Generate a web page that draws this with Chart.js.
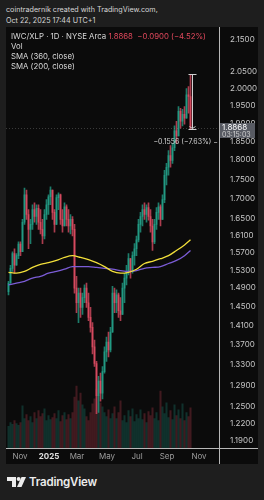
<!DOCTYPE html>
<html>
<head>
<meta charset="utf-8">
<script src="https://cdn.jsdelivr.net/npm/chart.js@4.4.1/dist/chart.umd.min.js"></script>
<style>
  html, body { margin: 0; padding: 0; width: 264px; height: 500px; overflow: hidden; background: #1e1e1e; font-family: Inter, "Noto Sans", sans-serif; }
  .hdr { position: absolute; left: 6px; color: #d6d6d6; font-size: 7.2px; line-height: 10px; white-space: nowrap; }
  #panel { position: absolute; left: 6px; top: 27px; width: 252px; height: 437px; background: #0b0b0b; }
  #chart { position: absolute; left: 0; top: 0; }
  .leg { position: absolute; left: 5px; font-size: 7.8px; line-height: 10px; color: #d8d8d8; white-space: nowrap; }
  .red { color: #e0485c; }
  #logo { position: absolute; left: 7px; top: 477px; }
  #brand { position: absolute; left: 29px; top: 474px; font-size: 11.5px; line-height: 16px; font-weight: 600; letter-spacing: -0.2px; color: #ececec; }
</style>
</head>
<body>
<div class="hdr" style="top:5px">cointradernik created with TradingView.com,</div>
<div class="hdr" style="top:15.5px">Oct 22, 2025 17:44 UTC+1</div>
<div id="panel">
  <canvas id="chart" width="252" height="437"></canvas>
  <div class="leg" style="top:4px">IWC/XLP · 1D · NYSE Arca <span class="red">1.8868 &nbsp;−0.0900 (−4.52%)</span></div>
  <div class="leg" style="top:14px">Vol</div>
  <div class="leg" style="top:24px">SMA (360, close)</div>
  <div class="leg" style="top:34px">SMA (200, close)</div>
</div>
<svg id="logo" width="19" height="10" viewBox="0 0 19 10">
  <path d="M0 0 H9 V10 H5 V4 H0 Z" fill="#ececec"/>
  <circle cx="11.6" cy="2" r="2" fill="#ececec"/>
  <path d="M14.5 0 H19 L14.5 10 H10 Z" fill="#ececec"/>
</svg>
<div id="brand">TradingView</div>

<script>
// bars (each bar ~ one 2px column)
const lows = [1.475, 1.501, 1.527, 1.523, 1.541, 1.556, 1.563, 1.572, 1.637, 1.649,
  1.579, 1.591, 1.625, 1.642, 1.637, 1.625, 1.614, 1.591, 1.602, 1.649,
  1.661, 1.685, 1.649, 1.618, 1.637, 1.673, 1.637, 1.618, 1.633, 1.633,
  1.618, 1.614, 1.609, 1.479, 1.437, 1.416, 1.427, 1.433, 1.458, 1.448,
  1.420, 1.396, 1.352, 1.327, 1.238, 1.240, 1.261, 1.265, 1.314, 1.337,
  1.346, 1.356, 1.396, 1.437, 1.437, 1.427, 1.420, 1.433, 1.458, 1.497,
  1.519, 1.512, 1.523, 1.541, 1.563, 1.595, 1.618, 1.633, 1.649, 1.642,
  1.647, 1.618, 1.575, 1.591, 1.625, 1.649, 1.633, 1.649, 1.690, 1.735,
  1.760, 1.781, 1.791, 1.825, 1.844, 1.865, 1.887, 1.893, 1.898, 1.915,
  1.929, 1.884];
const highs = [1.505, 1.541, 1.572, 1.579, 1.568, 1.595, 1.595, 1.649, 1.727, 1.722,
  1.673, 1.649, 1.685, 1.690, 1.685, 1.685, 1.673, 1.649, 1.673, 1.698,
  1.710, 1.730, 1.722, 1.673, 1.710, 1.715, 1.712, 1.673, 1.690, 1.685,
  1.673, 1.661, 1.656, 1.637, 1.516, 1.490, 1.490, 1.479, 1.497, 1.501,
  1.479, 1.448, 1.416, 1.380, 1.337, 1.308, 1.314, 1.327, 1.366, 1.386,
  1.396, 1.406, 1.494, 1.490, 1.486, 1.479, 1.469, 1.501, 1.523, 1.541,
  1.568, 1.556, 1.572, 1.591, 1.609, 1.649, 1.666, 1.685, 1.690, 1.685,
  1.690, 1.673, 1.649, 1.649, 1.678, 1.690, 1.685, 1.710, 1.773, 1.791,
  1.825, 1.839, 1.844, 1.893, 1.906, 1.948, 1.943, 1.940, 1.948, 2.000,
  2.006, 2.042];
const closes = [1.501, 1.534, 1.568, 1.541, 1.563, 1.590, 1.572, 1.642, 1.710, 1.661,
  1.625, 1.637, 1.673, 1.656, 1.676, 1.642, 1.625, 1.609, 1.661, 1.685,
  1.705, 1.722, 1.666, 1.637, 1.703, 1.710, 1.649, 1.633, 1.680, 1.649,
  1.633, 1.649, 1.625, 1.490, 1.458, 1.479, 1.448, 1.469, 1.490, 1.458,
  1.427, 1.406, 1.366, 1.333, 1.271, 1.299, 1.276, 1.317, 1.356, 1.376,
  1.360, 1.396, 1.479, 1.458, 1.475, 1.441, 1.433, 1.490, 1.512, 1.527,
  1.556, 1.527, 1.563, 1.579, 1.600, 1.637, 1.656, 1.673, 1.661, 1.678,
  1.656, 1.633, 1.595, 1.637, 1.666, 1.680, 1.649, 1.698, 1.760, 1.781,
  1.812, 1.799, 1.833, 1.879, 1.865, 1.934, 1.906, 1.926, 1.915, 1.982,
  1.977, 1.8868];
const firstOpen = 1.482;
const volumes = [2.2, 2.6, 2.4, 2.8, 2.5, 2.3, 2.6, 4.3, 3.0, 3.4,
  2.8, 3.2, 2.6, 3.6, 3.0, 3.8, 3.2, 3.5, 4.0, 2.8,
  3.3, 2.9, 3.1, 3.5, 3.0, 3.8, 2.7, 3.3, 3.6, 2.9,
  3.4, 3.0, 3.6, 5.2, 6.3, 4.8, 5.6, 4.4, 4.0, 3.2,
  2.8, 3.6, 4.5, 5.0, 6.0, 5.4, 4.6, 4.2, 3.6, 3.2,
  3.9, 3.0, 3.5, 4.2, 3.0, 3.6, 4.8, 2.8, 3.3, 2.6,
  3.8, 3.2, 4.0, 2.7, 3.4, 3.0, 3.9, 2.9, 3.5, 2.6,
  3.7, 3.3, 4.1, 3.0, 3.6, 2.8, 5.8, 4.2, 3.5, 4.6,
  3.1, 3.8, 2.9, 4.4, 3.3, 3.9, 3.0, 4.5, 2.8, 3.6,
  3.2, 4.1];

// moving averages, sampled every 4 bars
const smaIdx = [0, 4, 8, 12, 16, 20, 24, 28, 32, 36, 40, 44, 48, 52, 56, 60, 64, 68, 72, 76, 80, 84, 88, 91];
const sma200 = [1.525, 1.523, 1.527, 1.536, 1.543, 1.547, 1.552, 1.559, 1.563, 1.559, 1.554, 1.547,
  1.538, 1.527, 1.523, 1.525, 1.532, 1.545, 1.550, 1.556, 1.563, 1.575, 1.588, 1.600];
const sma360 = [1.497, 1.501, 1.505, 1.512, 1.516, 1.523, 1.527, 1.532, 1.538, 1.538, 1.538, 1.536,
  1.534, 1.532, 1.529, 1.527, 1.529, 1.534, 1.536, 1.538, 1.545, 1.552, 1.563, 1.575];

const priceTicks = [2.15, 2.05, 2.0, 1.95, 1.9, 1.85, 1.8, 1.75, 1.7, 1.65, 1.61, 1.57,
  1.53, 1.49, 1.45, 1.41, 1.37, 1.33, 1.29, 1.25, 1.22, 1.19];
const monthTicks = [5.75, 20.25, 34.25, 49.25, 64.25, 79.25, 95.25];
const monthLabels = ['Nov', '2025', 'Mar', 'May', 'Jul', 'Sep', 'Nov'];

const lastPrice = 1.8868;
const measureHigh = 2.0424;
const measureText = '−0.1556 (−7.63%) −';

const UP = '#229a83', DOWN = '#d54a5f';
const opens = closes.map((c, i) => i === 0 ? firstOpen : closes[i - 1]);
const isUp = closes.map((c, i) => c >= opens[i]);

const overlay = {
    id: 'overlay',
    afterDatasetsDraw(chart) {
        const { ctx, chartArea: a, scales: { x, y } } = chart;
        const py = Math.round(y.getPixelForValue(lastPrice)) + 0.5;
        ctx.save();
        // last price line
        ctx.strokeStyle = 'rgba(150,150,150,0.35)';
        ctx.lineWidth = 1;
        ctx.setLineDash([1, 2]);
        ctx.beginPath();
        ctx.moveTo(a.left, py);
        ctx.lineTo(a.right, py);
        ctx.stroke();
        ctx.setLineDash([]);
        // measure tool
        const mx = Math.round(x.getPixelForValue(closes.length - 1)) + 1.5;
        const top = Math.round(y.getPixelForValue(measureHigh)) + 0.5;
        ctx.strokeStyle = '#d0d0d0';
        ctx.beginPath();
        ctx.moveTo(mx, top); ctx.lineTo(mx, py);
        ctx.moveTo(mx - 4, top); ctx.lineTo(mx + 4, top);
        ctx.moveTo(mx - 3, py - 2); ctx.lineTo(mx, py); ctx.lineTo(mx + 3, py - 2);
        ctx.moveTo(mx - 4, py + 1); ctx.lineTo(mx + 4, py + 1);
        ctx.stroke();
        ctx.fillStyle = '#d4d4d4';
        ctx.font = '7px Inter';
        ctx.textBaseline = 'middle';
        ctx.textAlign = 'right';
        ctx.fillText(measureText, a.right - 1, py + 13);
        ctx.restore();
    },
    afterDraw(chart) {
        const { ctx, chartArea: a, scales: { y } } = chart;
        ctx.save();
        ctx.strokeStyle = '#b8b8b8';
        ctx.lineWidth = 1;
        ctx.beginPath();
        ctx.moveTo(a.right + 0.5, 0); ctx.lineTo(a.right + 0.5, chart.height);
        ctx.moveTo(0, a.bottom + 0.5); ctx.lineTo(chart.width, a.bottom + 0.5);
        ctx.stroke();
        // last price label
        const py = Math.round(y.getPixelForValue(lastPrice));
        ctx.fillStyle = '#585b63';
        ctx.fillRect(a.right + 1, py - 5, 35, 15);
        ctx.textBaseline = 'middle';
        ctx.textAlign = 'left';
        ctx.fillStyle = '#ffffff';
        ctx.font = '8px Inter';
        ctx.fillText(lastPrice.toFixed(4), a.right + 3, py);
        ctx.fillStyle = '#d0d0d0';
        ctx.font = '7px Inter';
        ctx.fillText('03:15:03', a.right + 3, py + 7);
        ctx.restore();
    }
};

Chart.defaults.font.family = 'Inter';

new Chart(document.getElementById('chart'), {
    type: 'bar',
    data: {
        datasets: [
            {
                type: 'line',
                label: 'SMA 200',
                data: smaIdx.map((ix, k) => ({ x: ix, y: sma200[k] })),
                borderColor: '#f2df3a',
                borderWidth: 1.3,
                pointRadius: 0,
                cubicInterpolationMode: 'monotone',
                order: 1
            },
            {
                type: 'line',
                label: 'SMA 360',
                data: smaIdx.map((ix, k) => ({ x: ix, y: sma360[k] })),
                borderColor: '#7b5cd6',
                borderWidth: 1.3,
                pointRadius: 0,
                cubicInterpolationMode: 'monotone',
                order: 1
            },
            {
                label: 'Body',
                data: closes.map((c, i) => ({ x: i, y: [opens[i], c] })),
                backgroundColor: isUp.map(u => u ? UP : DOWN),
                barThickness: 1,
                grouped: false,
                order: 2
            },
            {
                label: 'Wick',
                data: lows.map((l, i) => ({ x: i, y: [l, highs[i]] })),
                backgroundColor: isUp.map(u => u ? 'rgba(34,154,131,0.8)' : 'rgba(213,74,95,0.8)'),
                barThickness: 1,
                grouped: false,
                order: 3
            },
            {
                label: 'Vol',
                data: volumes.map((v, i) => ({ x: i, y: v })),
                yAxisID: 'yv',
                backgroundColor: isUp.map(u => u ? 'rgba(30,160,140,0.26)' : 'rgba(220,70,90,0.26)'),
                barThickness: 1.4,
                grouped: false,
                order: 4
            }
        ]
    },
    options: {
        responsive: false,
        animation: false,
        devicePixelRatio: 1,
        layout: { padding: 0 },
        plugins: {
            legend: { display: false },
            tooltip: { enabled: false }
        },
        scales: {
            x: {
                type: 'linear',
                min: -1.25,
                max: 105.25,
                offset: false,
                grid: { display: false },
                border: { display: false },
                afterBuildTicks: s => { s.ticks = monthTicks.map(v => ({ value: v })); },
                afterFit: s => { s.height = 16; },
                ticks: {
                    autoSkip: false,
                    maxRotation: 0,
                    padding: -4,
                    callback: (v, i) => monthLabels[i],
                    color: c => c.index === 1 ? '#e0e0e0' : '#9d9d9d',
                    font: c => c.index === 1 ? { size: 8, weight: 'bold' } : { size: 8 }
                }
            },
            y: {
                type: 'logarithmic',
                position: 'right',
                min: 1.1766,
                max: 2.1656,
                grid: { display: false },
                border: { display: false },
                afterBuildTicks: s => { s.ticks = priceTicks.map(v => ({ value: v })); },
                afterFit: s => { s.width = 39; },
                ticks: {
                    autoSkip: false,
                    padding: 3,
                    color: '#c6c6c6',
                    font: { size: 8 },
                    callback: v => Number(v).toFixed(4)
                }
            },
            yv: {
                display: false,
                min: 0,
                max: 42.1
            }
        }
    },
    plugins: [overlay]
});
</script>
</body>
</html>
